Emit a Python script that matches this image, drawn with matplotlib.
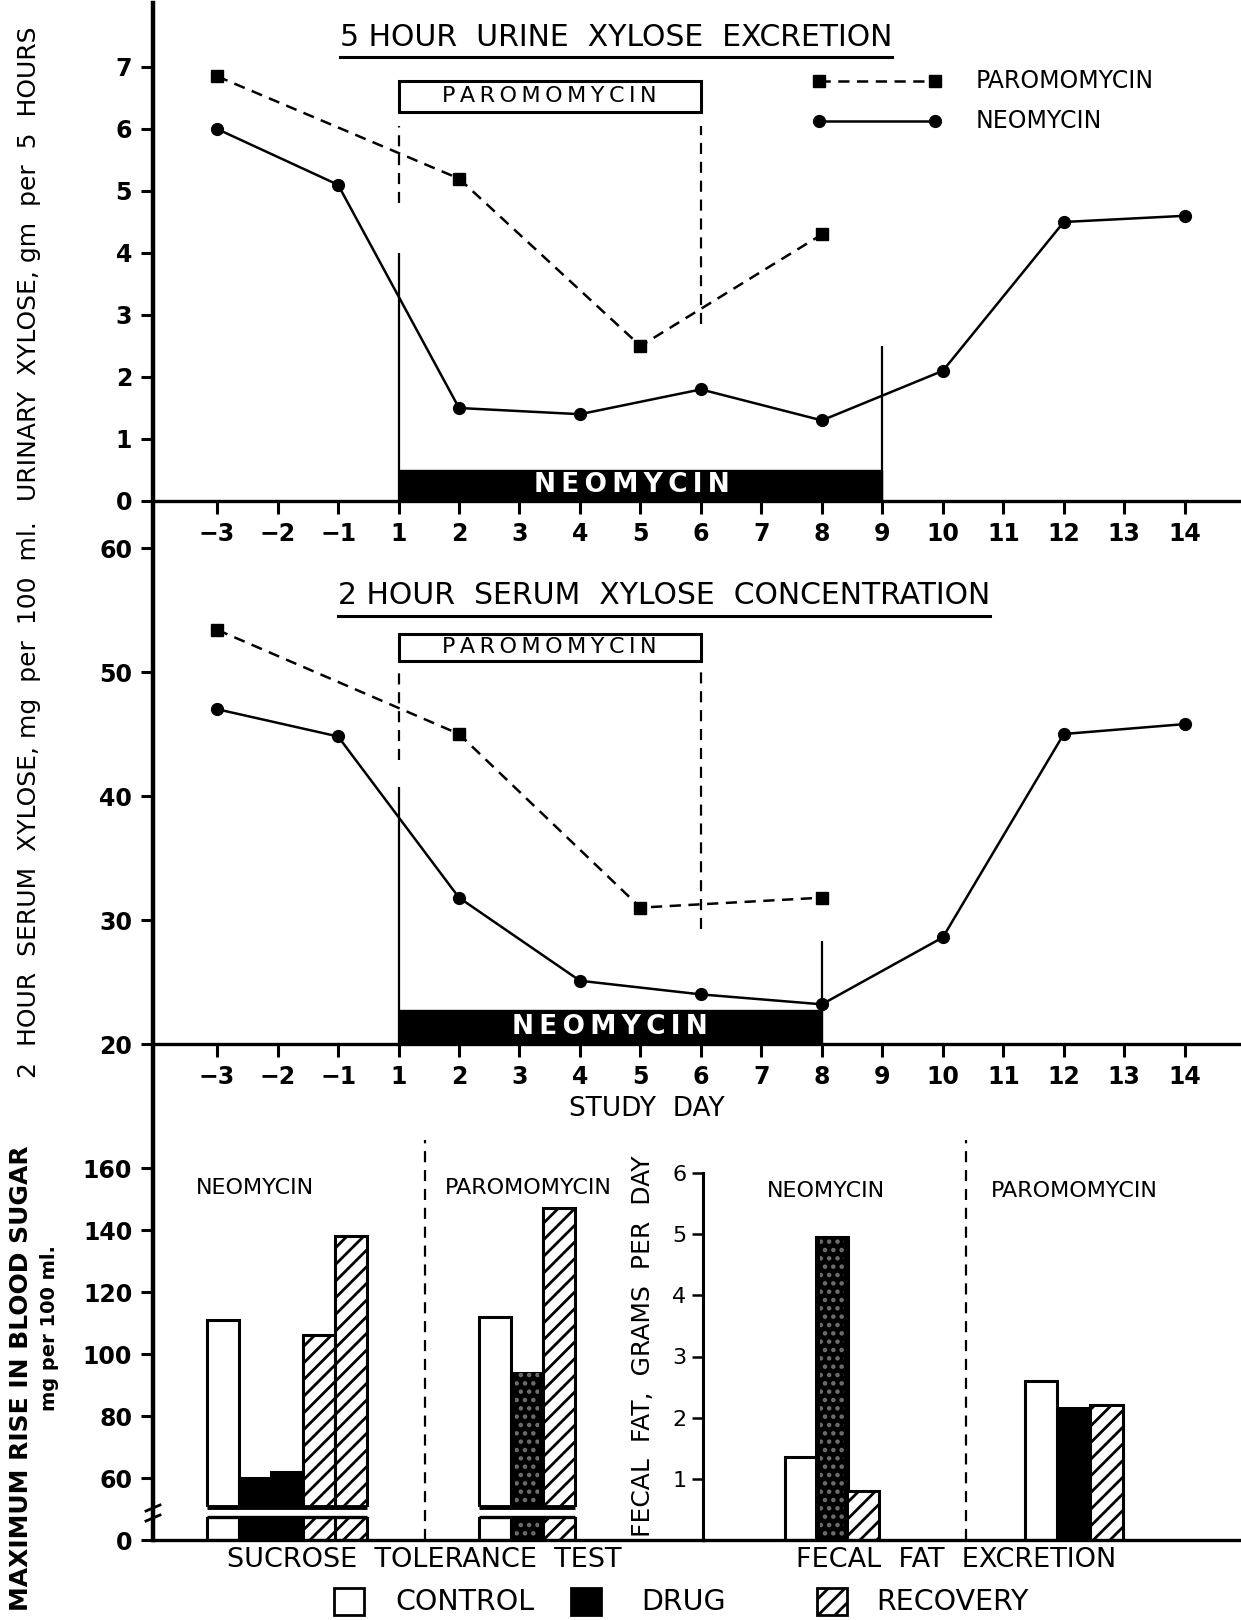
import matplotlib
matplotlib.use("Agg")
import matplotlib.pyplot as plt
import numpy as np
from matplotlib.lines import Line2D
from matplotlib.patches import Rectangle

plt.rcParams["font.family"] = "DejaVu Sans"
plt.rcParams["hatch.linewidth"] = 2.0

# study days along the x axis (there is no day 0)
days = [-3, -2, -1, 1, 2, 3, 4, 5, 6, 7, 8, 9, 10, 11, 12, 13, 14]

neo_days = [-3, -1, 2, 4, 6, 8, 10, 12, 14]
paro_days = [-3, 2, 5, 8]

# 5 hour urine xylose, gm per 5 hours
urine_neo = [6.0, 5.1, 1.5, 1.4, 1.8, 1.3, 2.1, 4.5, 4.6]
urine_paro = [6.85, 5.2, 2.5, 4.3]

# 2 hour serum xylose, mg per 100 ml
serum_neo = [47.0, 44.8, 31.8, 25.1, 24.0, 23.2, 28.6, 45.0, 45.8]
serum_paro = [53.4, 45.0, 31.0, 31.8]

# sucrose tolerance test, max rise in blood sugar (mg per 100 ml)
sucrose_neo_phase = ["control", "drug", "drug", "recovery", "recovery"]
sucrose_neo = [111, 60, 62, 106, 138]
sucrose_paro_phase = ["control", "drug", "recovery"]
sucrose_paro = [112, 94, 147]

# fecal fat, grams per day
fecal_phase = ["control", "drug", "recovery"]
fecal_neo = [1.35, 4.95, 0.8]
fecal_paro = [2.6, 2.15, 2.2]

W, H = 1241, 1620


def fx(x):
    return x / W


def fy(y):
    return 1 - y / H


def rect(l, t, r, b):
    return [l / W, 1 - b / H, (r - l) / W, (b - t) / H]


def spaced(s):
    return "\u2009".join(s)


fig = plt.figure(figsize=(W / 100, H / 100), dpi=100)
fig.patch.set_facecolor("white")

pos = {d: i for i, d in enumerate(days)}
XLIM = (-1.06, 16.93)


def series_panel(ax, neo, paro, ylim, yticks):
    ax.plot([pos[d] for d in paro_days], paro, color="black", lw=1.8,
            ls=(0, (4.5, 3)), marker="s", ms=8, zorder=4)
    ax.plot([pos[d] for d in neo_days], neo, color="black", lw=1.8,
            marker="o", ms=8.5, zorder=4)
    ax.set_xlim(*XLIM)
    ax.set_ylim(*ylim)
    ax.set_xticks(range(len(days)))
    ax.set_xticklabels([str(d).replace("-", "\u2212") for d in days])
    ax.set_yticks(yticks)
    ax.set_yticklabels([str(t) for t in yticks])
    for s in ("top", "right", "left"):
        ax.spines[s].set_visible(False)
    ax.spines["bottom"].set_linewidth(2.4)
    ax.tick_params(direction="out", length=9, width=2.2, labelsize=17, pad=6)
    for lab in ax.get_xticklabels() + ax.get_yticklabels():
        lab.set_fontweight("bold")
    ax.set_facecolor("none")


# ---- urine xylose ----
ax1 = fig.add_axes(rect(153, 5, 1241, 501))
series_panel(ax1, urine_neo, urine_paro, (0, 8.0), range(0, 8))
ax1.add_patch(Rectangle((pos[1], 6.28), pos[6] - pos[1], 0.5, fc="white",
                        ec="black", lw=2.2, zorder=3))
ax1.text((pos[1] + pos[6]) / 2, 6.53, spaced("PAROMOMYCIN"), ha="center",
         va="center", fontsize=16, zorder=5)
ax1.add_patch(Rectangle((pos[1], 0), pos[9] - pos[1], 0.5, fc="black",
                        ec="black", zorder=3))
ax1.text(pos[5] - 0.15, 0.25, spaced("NEOMYCIN"), ha="center", va="center",
         fontsize=19, fontweight="bold", color="white", zorder=5)
ax1.vlines([pos[1], pos[6]], [4.8, 2.85], 6.05, colors="black", lw=1.6,
           linestyles=(0, (5, 3.5)), zorder=2)
ax1.vlines([pos[1], pos[9]], 0, [4.0, 2.5], colors="black", lw=1.6, zorder=2)

# ---- serum xylose ----
ax2 = fig.add_axes(rect(153, 548, 1241, 1044))
series_panel(ax2, serum_neo, serum_paro, (20, 60), range(20, 61, 10))
ax2.add_patch(Rectangle((pos[1], 50.9), pos[6] - pos[1], 2.2, fc="white",
                        ec="black", lw=2.2, zorder=3))
ax2.text((pos[1] + pos[6]) / 2, 52.0, spaced("PAROMOMYCIN"), ha="center",
         va="center", fontsize=16, zorder=5)
ax2.add_patch(Rectangle((pos[1], 20), pos[8] - pos[1], 2.75, fc="black",
                        ec="black", zorder=3))
ax2.text(pos[4] + 0.5, 21.35, spaced("NEOMYCIN"), ha="center", va="center",
         fontsize=19, fontweight="bold", color="white", zorder=5)
ax2.vlines([pos[1], pos[6]], [42.9, 29.3], 50.1, colors="black", lw=1.6,
           linestyles=(0, (5, 3.5)), zorder=2)
ax2.vlines([pos[1], pos[8]], [20, 22.75], [40.7, 28.3], colors="black",
           lw=1.6, zorder=2)

# ---- bar panels ----
styles = {
    "control": dict(facecolor="white", edgecolor="black", hatch=None),
    "drug": dict(facecolor="black", edgecolor="black", hatch=None),
    "recovery": dict(facecolor="white", edgecolor="black", hatch="//"),
}


def draw_bars(ax, xs, vals, phases, stipple=False):
    for x, v, ph in zip(xs, vals, phases):
        ax.bar(x, v, width=1.0, linewidth=2.2, zorder=2, **styles[ph])
        if stipple and ph == "drug":
            # screened print tone on the drug bar
            ax.bar(x, v, width=0.75, facecolor="none", edgecolor="#6e6e6e",
                   hatch="..", linewidth=0, zorder=2.5)


def fwd(v):
    v = np.asarray(v, dtype=float)
    return np.where(v < 52, 40 + v * 12 / 52, v)


def inv(y):
    y = np.asarray(y, dtype=float)
    return np.where(y < 52, (y - 40) * 52 / 12, y)


sucrose_neo_x = [2.2, 3.2, 4.2, 5.2, 6.2]
sucrose_paro_x = [10.7, 11.7, 12.7]

ax3 = fig.add_axes(rect(153, 1124, 703, 1540))
ax3.set_yscale("function", functions=(fwd, inv))
ax3.set_xlim(0, 17.2)
ax3.set_ylim(0, 174.2)
draw_bars(ax3, sucrose_neo_x, sucrose_neo, sucrose_neo_phase)
draw_bars(ax3, sucrose_paro_x, sucrose_paro, sucrose_paro_phase, stipple=True)
# axis break through the bars
for xs in (sucrose_neo_x, sucrose_paro_x):
    ax3.bar(xs, [14] * len(xs), bottom=32, width=1.15, color="white",
            lw=0, zorder=3)
    ax3.hlines(46, min(xs) - 0.5, max(xs) + 0.5, color="black", lw=3.5,
               zorder=4)
    ax3.hlines(32, min(xs) - 0.5, max(xs) + 0.5, color="black", lw=2.4,
               zorder=4)
ax3.axvline(8.5, ymin=0, ymax=400 / 416, color="black", lw=1.6,
            ls=(0, (5, 3.5)))
ax3.text(3.2, 153.5, "NEOMYCIN", ha="center", va="center", fontsize=16)
ax3.text(11.75, 153.5, "PAROMOMYCIN", ha="center", va="center", fontsize=16)
ax3.set_xticks([])
ax3.set_yticks([0, 60, 80, 100, 120, 140, 160])
ax3.set_yticklabels(["0", "60", "80", "100", "120", "140", "160"])
for s in ("top", "right", "left"):
    ax3.spines[s].set_visible(False)
ax3.spines["bottom"].set_linewidth(2.4)
ax3.tick_params(axis="y", direction="out", length=9, width=2.2,
                labelsize=17, pad=6)
for lab in ax3.get_yticklabels():
    lab.set_fontweight("bold")
ax3.set_facecolor("none")

fecal_neo_x = [3.06, 4.03, 5.0]
fecal_paro_x = [10.56, 11.6, 12.6]

ax4 = fig.add_axes(rect(703, 1173, 1241, 1540))
ax4.set_xlim(0, 16.8)
ax4.set_ylim(0, 6)
draw_bars(ax4, fecal_neo_x, fecal_neo, fecal_phase, stipple=True)
draw_bars(ax4, fecal_paro_x, fecal_paro, fecal_phase)
ax4.axvline(8.2, ymin=0, ymax=400 / 367, color="black", lw=1.6,
            ls=(0, (5, 3.5)), clip_on=False)
ax4.text(3.84, 5.7, "NEOMYCIN", ha="center", va="center", fontsize=16)
ax4.text(11.6, 5.7, "PAROMOMYCIN", ha="center", va="center", fontsize=16)
ax4.set_xticks([])
ax4.set_yticks(range(1, 7))
ax4.set_yticklabels([str(t) for t in range(1, 7)])
for s in ("top", "right"):
    ax4.spines[s].set_visible(False)
ax4.spines["bottom"].set_linewidth(2.4)
ax4.spines["left"].set_linewidth(2.2)
ax4.tick_params(axis="y", direction="out", length=8, width=1.8,
                labelsize=16, pad=4)
ax4.set_facecolor("none")

# ---- shared vertical axis line with break ----
fig.add_artist(Line2D([fx(153), fx(153)], [fy(3), fy(1540)], color="black",
                      lw=3.2))
fig.add_artist(Rectangle((fx(144), fy(1518)), 18 / W, 10 / H,
                         transform=fig.transFigure, fc="white", ec="none"))
fig.add_artist(Line2D([fx(146), fx(160)], [fy(1511), fy(1505)],
                      color="black", lw=2))
fig.add_artist(Line2D([fx(146), fx(160)], [fy(1521), fy(1515)],
                      color="black", lw=2))

# ---- titles ----
t1 = fig.text(fx(616), fy(37), "5 HOUR  URINE  XYLOSE  EXCRETION",
              ha="center", va="center", fontsize=21.5)
t2 = fig.text(fx(664), fy(596), "2 HOUR  SERUM  XYLOSE  CONCENTRATION",
              ha="center", va="center", fontsize=21.5)
fig.canvas.draw()
for t in (t1, t2):
    bb = t.get_window_extent()
    y = (bb.y0 - 5) / fig.bbox.height
    fig.add_artist(Line2D([bb.x0 / fig.bbox.width, bb.x1 / fig.bbox.width],
                          [y, y], color="black", lw=2.2))

# ---- series legend ----
fig.add_artist(Line2D([fx(819), fx(935)], [fy(81), fy(81)], color="black",
                      lw=1.8, ls=(0, (4.5, 3)), marker="s", ms=8))
fig.add_artist(Line2D([fx(819), fx(935)], [fy(121), fy(121)], color="black",
                      lw=1.8, marker="o", ms=8.5))
fig.text(fx(976), fy(81), "PAROMOMYCIN", va="center", fontsize=17)
fig.text(fx(976), fy(121), "NEOMYCIN", va="center", fontsize=17)

# ---- axis labels ----
fig.text(fx(29), fy(264), "URINARY  XYLOSE, gm  per  5  HOURS", rotation=90,
         ha="center", va="center", fontsize=18)
fig.text(fx(29), fy(800), "2  HOUR  SERUM  XYLOSE, mg  per  100  ml.",
         rotation=90, ha="center", va="center", fontsize=18)
fig.text(fx(647), fy(1109), "STUDY  DAY", ha="center", va="center",
         fontsize=19)
fig.text(fx(21), fy(1378), "MAXIMUM RISE IN BLOOD SUGAR", rotation=90,
         ha="center", va="center", fontsize=18, fontweight="bold")
fig.text(fx(50), fy(1328), "mg per 100 ml.", rotation=90, ha="center",
         va="center", fontsize=14, fontweight="bold")
fig.text(fx(643), fy(1346), "FECAL  FAT,  GRAMS  PER  DAY", rotation=90,
         ha="center", va="center", fontsize=18)
fig.text(fx(424), fy(1560), "SUCROSE  TOLERANCE  TEST", ha="center",
         va="center", fontsize=19.5)
fig.text(fx(956), fy(1560), "FECAL  FAT  EXCRETION", ha="center",
         va="center", fontsize=19.5)

# ---- phase legend ----
keys = [(334, "control", "CONTROL", 395), (571, "drug", "DRUG", 641),
        (817, "recovery", "RECOVERY", 876)]
for kx, ph, label, tx in keys:
    st = styles[ph]
    fig.add_artist(Rectangle((fx(kx), fy(1615)), 30 / W, 27 / H,
                             transform=fig.transFigure, lw=2,
                             facecolor=st["facecolor"],
                             edgecolor=st["edgecolor"], hatch=st["hatch"]))
    fig.text(fx(tx), fy(1602), label, va="center", fontsize=20.5)

fig.savefig("out.png", dpi=100)
